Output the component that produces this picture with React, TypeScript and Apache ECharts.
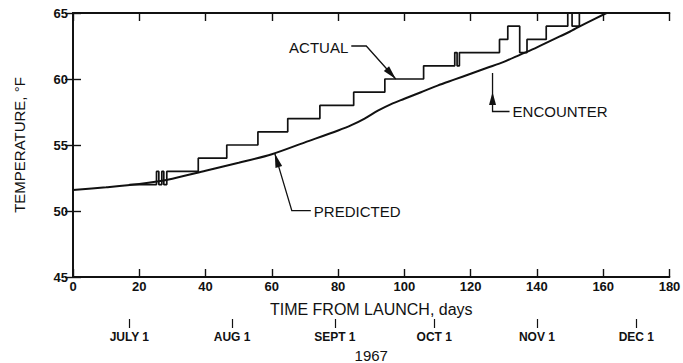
import React, { useEffect, useRef } from "react";
import * as echarts from "echarts";

// Predicted temperature curve (days from launch, °F)
const predictedDays = [0, 10, 20, 30, 40, 50, 60, 70, 80, 84, 88, 92, 96, 100, 105, 110, 115, 120, 125, 130, 135, 140, 145, 150, 155, 161];
const predictedTemps = [51.6, 51.8, 52.05, 52.45, 53.05, 53.65, 54.3, 55.2, 56.1, 56.5, 57.0, 57.6, 58.1, 58.5, 59.0, 59.5, 59.95, 60.4, 60.85, 61.3, 61.85, 62.4, 63.0, 63.6, 64.25, 65];

// Actual (step) temperatures: level holds from this day until the next
const actualDays = [17, 25.2, 25.9, 26.8, 27.4, 28.3, 37.8, 46.4, 55.8, 64.8, 74.5, 84.7, 94.1, 105.8, 115.2, 115.9, 116.6, 128.7, 131.2, 134.8, 137, 142.8, 149.3, 150.6, 152.8, 160];
const actualTemps = [52, 53, 52, 53, 52, 53, 54, 55, 56, 57, 58, 59, 60, 61, 62, 61, 62, 63, 64, 62, 63, 64, 65, 64, 65, 65];

// Calendar axis
const dateDays = [17, 48, 79, 109, 140, 170];
const dateLabels = ["JULY 1", "AUG 1", "SEPT 1", "OCT 1", "NOV 1", "DEC 1"];

// Annotation anchors (data coordinates)
const actualTip = [97.4, 60];
const predictedTip = [60.9, 54.35];
const encounterDay = [126.6, 61.06];

const FONT = "'Liberation Sans', Arial, Helvetica, sans-serif";

function head(tip: number[], from: number[], len = 14, hw = 3.5) {
  const dx = tip[0] - from[0];
  const dy = tip[1] - from[1];
  const L = Math.hypot(dx, dy);
  const ux = dx / L, uy = dy / L;
  const bx = tip[0] - ux * len, by = tip[1] - uy * len;
  return [
    [tip[0], tip[1]],
    [bx - uy * hw, by + ux * hw],
    [bx + uy * hw, by - ux * hw],
  ];
}

export default function App() {
  const ref = useRef<HTMLDivElement>(null);
  useEffect(() => {
    if (!ref.current) return;
    const chart = echarts.init(ref.current, undefined, { renderer: "svg" });
    const black = "#111";
    const tickLabel = { color: black, fontFamily: FONT, fontWeight: "bold" as const, fontSize: 13 };
    chart.setOption({
      animation: false,
      backgroundColor: "#fff",
      grid: { left: 73, top: 13, right: 13.5, bottom: 86, containLabel: false, outerBoundsMode: "none" },
      xAxis: [
        {
          type: "value", min: 0, max: 180, interval: 20, position: "bottom",
          name: "TIME FROM LAUNCH, days", nameLocation: "middle", nameGap: 24,
          nameTextStyle: { color: black, fontFamily: FONT, fontSize: 16 },
          axisLine: { show: true, lineStyle: { color: black, width: 1.8 } },
          axisTick: { show: true, inside: true, length: 8, lineStyle: { color: black, width: 1.4 } },
          axisLabel: { ...tickLabel, margin: 3 },
          splitLine: { show: false },
        },
        {
          type: "value", min: 0, max: 180, interval: 20, position: "top",
          axisLine: { show: true, lineStyle: { color: black, width: 1.8 } },
          axisTick: { show: true, inside: true, length: 8, lineStyle: { color: black, width: 1.4 } },
          axisLabel: { show: false },
          splitLine: { show: false },
        },
        {
          type: "value", min: 0, max: 180, position: "bottom", offset: 42,
          name: "1967", nameLocation: "middle", nameGap: 21,
          nameTextStyle: { color: black, fontFamily: FONT, fontSize: 15 },
          axisLine: { show: false },
          axisTick: { show: true, inside: false, length: 9, customValues: dateDays, lineStyle: { color: black, width: 1.2 } },
          axisLabel: {
            ...tickLabel, fontSize: 12, margin: 12, customValues: dateDays,
            formatter: (v: number) => dateLabels[dateDays.indexOf(Math.round(v))] ?? "",
          },
          splitLine: { show: false },
        },
      ],
      yAxis: [
        {
          type: "value", min: 45, max: 65, interval: 5, position: "left",
          name: "TEMPERATURE, °F", nameLocation: "middle", nameGap: 46, nameRotate: 90,
          nameTextStyle: { color: black, fontFamily: FONT, fontSize: 15 },
          axisLine: { show: true, lineStyle: { color: black, width: 1.8 } },
          axisTick: { show: true, inside: true, length: 8, lineStyle: { color: black, width: 1.4 } },
          axisLabel: { ...tickLabel, margin: 5 },
          splitLine: { show: false },
        },
        {
          type: "value", min: 45, max: 65, interval: 5, position: "right",
          axisLine: { show: true, lineStyle: { color: black, width: 1.8 } },
          axisTick: { show: true, inside: true, length: 8, lineStyle: { color: black, width: 1.4 } },
          axisLabel: { show: false },
          splitLine: { show: false },
        },
      ],
      series: [
        {
          type: "line", name: "PREDICTED", xAxisIndex: 0, yAxisIndex: 0,
          data: predictedDays.map((d, i) => [d, predictedTemps[i]]),
          smooth: 0.3, showSymbol: false,
          lineStyle: { color: black, width: 2 },
        },
        {
          type: "line", name: "ACTUAL", xAxisIndex: 0, yAxisIndex: 0,
          data: actualDays.map((d, i) => [d, actualTemps[i]]),
          step: "end", showSymbol: false,
          lineStyle: { color: black, width: 1.7 },
        },
      ],
    });

    const px = (p: number[]) => chart.convertToPixel({ xAxisIndex: 0, yAxisIndex: 0 }, p) as number[];
    const line = { stroke: black, lineWidth: 1.3, fill: "none" };
    const txt = (x: number, y: number, text: string, align: string) => ({
      type: "text", x, y,
      style: { text, fill: black, font: `15px ${FONT}`, align, verticalAlign: "middle" },
    });

    // ACTUAL
    const aT = px(actualTip);
    const aE = [aT[0] - 29.5, aT[1] - 33];
    const aS = [aE[0] - 15, aE[1]];
    // PREDICTED
    const pT = px(predictedTip);
    const pE = [pT[0] + 17, pT[1] + 57];
    const pH = [pE[0] + 19, pE[1]];
    // ENCOUNTER
    const eB = px(encounterDay);
    const eTop = eB[1] + 8;
    const eTip = [eB[0], eB[1] + 27];
    const eBot = [eB[0], eB[1] + 46.5];
    const eEnd = [eB[0] + 17, eBot[1]];

    chart.setOption({
      graphic: [
        { type: "polyline", shape: { points: [aS, aE, aT] }, style: line },
        { type: "polygon", shape: { points: head(aT, aE) }, style: { fill: black } },
        txt(aS[0] - 3, aE[1] + 1, "ACTUAL", "right"),

        { type: "polyline", shape: { points: [pH, pE, pT] }, style: line },
        { type: "polygon", shape: { points: head(pT, pE) }, style: { fill: black } },
        txt(pH[0] + 3, pE[1] + 1, "PREDICTED", "left"),

        { type: "polyline", shape: { points: [[eB[0], eTop], eBot, eEnd] }, style: line },
        { type: "polygon", shape: { points: head(eTip, eBot, 13, 3.5) }, style: { fill: black } },
        txt(eEnd[0] + 3, eBot[1], "ENCOUNTER", "left"),
      ],
    });

    return () => chart.dispose();
  }, []);
  return <div ref={ref} style={{ position: "fixed", left: 0, top: 0, width: 683, height: 363 }} />;
}
